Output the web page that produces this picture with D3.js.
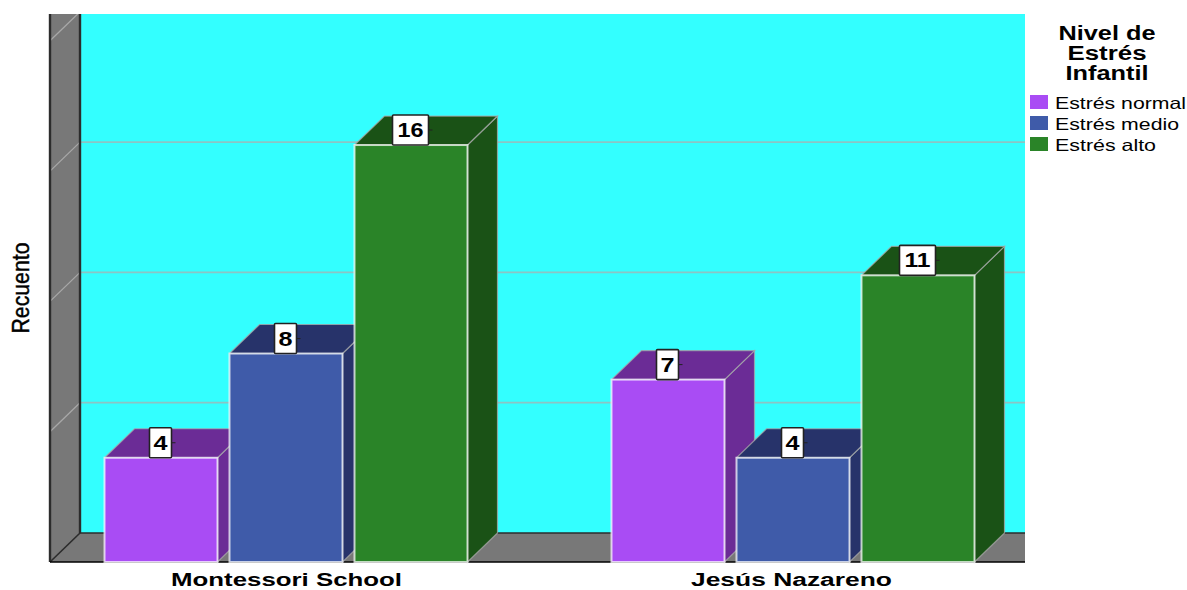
<!DOCTYPE html>
<html><head><meta charset="utf-8">
<script src="https://cdn.jsdelivr.net/npm/d3@7"></script>
<style>html,body{margin:0;padding:0;background:#fff}svg{display:block}text{font-family:"Liberation Sans",Arial,sans-serif;fill:#000}</style>
</head><body><svg id="c" width="1187" height="590"></svg>
<script>
const groups = ["Montessori School", "Jesús Nazareno"];
const seriesNames = ["Estrés normal", "Estrés medio", "Estrés alto"];
const montessoriValues = [4, 8, 16];
const nazarenoValues = [7, 4, 11];
const gridTicks = [5, 10, 15, 20];
const legendTitle = ["Nivel de", "Estrés", "Infantil"];
const yAxisTitle = "Recuento";
const frontColors = ["#A94CF4", "#3F5BA9", "#2A8428"];
const darkColors = ["#6B2C96", "#27336A", "#1A5216"];

const valuesByGroup = [montessoriValues, nazarenoValues];
const svg = d3.select("#c");
const L = 50, R = 1025, T = 14, B = 562, DX = 30, DY = 29;
const y = d3.scaleLinear().domain([0, 20]).range([B, B - 521.2]);
const x0 = d3.scalePoint().domain(groups).range([286.5, 793.5]);
const x1 = d3.scaleBand().domain(seriesNames).range([-181.5, 181.5]).paddingInner(12 / 125);
const color = d3.scaleOrdinal(seriesNames, frontColors);
const dark = d3.scaleOrdinal(seriesNames, darkColors);

svg.append("clipPath").attr("id", "plot").append("rect")
  .attr("x", L - 2).attr("y", T).attr("width", R - L + 2).attr("height", B - T + 2);
const g = svg.append("g").attr("clip-path", "url(#plot)");

// back wall, side wall, floor
g.append("rect").attr("x", L + DX).attr("y", T).attr("width", R - L - DX).attr("height", B - DY - T).attr("fill", "#33FFFF");
g.append("rect").attr("x", L).attr("y", T).attr("width", DX).attr("height", B - T).attr("fill", "#787878");
g.append("rect").attr("x", L).attr("y", B - DY).attr("width", R - L).attr("height", DY).attr("fill", "#787878");

// gridlines on the wall
g.selectAll("line.grid").data(gridTicks).join("line").attr("class", "grid")
  .attr("x1", L + DX).attr("x2", R).attr("y1", d => y(d) - DY).attr("y2", d => y(d) - DY)
  .attr("stroke", "#8CC4C4").attr("stroke-width", 1.8);
g.selectAll("line.diag").data(gridTicks).join("line").attr("class", "diag")
  .attr("x1", L).attr("x2", L + DX).attr("y1", d => y(d)).attr("y2", d => y(d) - DY)
  .attr("stroke", "#A8A8A8").attr("stroke-width", 1.3);

// frame lines
const frame = [
  [L, T, L, B], [L + DX, T, L + DX, B - DY], [L + DX, B - DY, R, B - DY],
  [L, B, L + DX, B - DY], [L, B, R, B]
];
g.selectAll("line.frame").data(frame).join("line").attr("class", "frame")
  .attr("x1", d => d[0]).attr("y1", d => d[1]).attr("x2", d => d[2]).attr("y2", d => d[3])
  .attr("stroke", (d, i) => i === 4 ? "#000" : "#2c2c2c").attr("stroke-width", (d, i) => i < 2 ? 2.4 : 1.6);

// 3D bars
const bars = groups.flatMap((grp, i) => seriesNames.map((s, j) => ({ grp, s, v: valuesByGroup[i][j] })));
const barG = g.selectAll("g.bar").data(bars).join("g").attr("class", "bar");
const bw = x1.bandwidth();
const left = d => x0(d.grp) + x1(d.s) - 0.5;
const pts = a => a.map(p => p.join(",")).join(" ");
barG.append("polygon")
  .attr("points", d => pts([[left(d) + bw, B], [left(d) + bw + DX, B - DY], [left(d) + bw + DX, y(d.v) - DY], [left(d) + bw, y(d.v)]]))
  .attr("fill", d => dark(d.s)).attr("stroke", "#A9A9A9").attr("stroke-opacity", .75).attr("stroke-width", 1.2);
barG.append("polygon")
  .attr("points", d => pts([[left(d), y(d.v)], [left(d) + DX, y(d.v) - DY], [left(d) + bw + DX, y(d.v) - DY], [left(d) + bw, y(d.v)]]))
  .attr("fill", d => dark(d.s)).attr("stroke", "#A9A9A9").attr("stroke-opacity", .75).attr("stroke-width", 1.2);
barG.append("rect")
  .attr("x", left).attr("y", d => y(d.v)).attr("width", bw).attr("height", d => B - y(d.v))
  .attr("fill", d => color(d.s)).attr("stroke", "#fff").attr("stroke-opacity", .72).attr("stroke-width", 2);

// value labels
const labG = svg.selectAll("g.lab").data(bars).join("g").attr("class", "lab")
  .attr("transform", d => `translate(${left(d) + bw / 2 - 0.5},${y(d.v) - 15})`);
labG.append("line").attr("x1", 0).attr("x2", d => (String(d.v).length > 1 ? 18 : 11) + 4)
  .attr("stroke", "#222").attr("stroke-width", 1);
labG.append("rect")
  .attr("x", d => String(d.v).length > 1 ? -18 : -11).attr("width", d => String(d.v).length > 1 ? 36 : 22)
  .attr("y", -15).attr("height", 30).attr("rx", 1)
  .attr("fill", "#fff").attr("stroke", "#222").attr("stroke-width", 1.6);
labG.append("text").attr("text-anchor", "middle").attr("y", 7)
  .attr("font-size", 21).attr("font-weight", 700)
  .attr("textLength", d => String(d.v).length > 1 ? 26 : 14).attr("lengthAdjust", "spacingAndGlyphs").text(d => d.v);

// category labels
svg.selectAll("text.cat").data(groups).join("text").attr("class", "cat")
  .attr("x", (d, i) => x0(d) - (i === 0 ? 0 : 2)).attr("y", 586).attr("text-anchor", "middle")
  .attr("font-size", 18).attr("font-weight", 700)
  .attr("textLength", (d, i) => i === 0 ? 231 : 201).attr("lengthAdjust", "spacingAndGlyphs").text(d => d);

// y title
svg.append("text").attr("transform", "translate(29,288) rotate(-90)").attr("text-anchor", "middle")
  .attr("font-size", 23).attr("stroke", "#000").attr("stroke-width", .45)
  .attr("textLength", 91).attr("lengthAdjust", "spacingAndGlyphs").text(yAxisTitle);

// legend
const titleWidths = [97, 79, 83];
svg.selectAll("text.lt").data(legendTitle).join("text").attr("class", "lt")
  .attr("x", 1107).attr("y", (d, i) => 40 + i * 20).attr("text-anchor", "middle")
  .attr("font-size", 19.5).attr("font-weight", 700)
  .attr("textLength", (d, i) => titleWidths[i]).attr("lengthAdjust", "spacingAndGlyphs").text(d => d);
const legendWidths = [131, 124, 101];
const leg = svg.selectAll("g.leg").data(seriesNames).join("g").attr("class", "leg")
  .attr("transform", (d, i) => `translate(1030,${95 + i * 21})`);
leg.append("rect").attr("width", 18).attr("height", 14).attr("fill", d => color(d));
leg.append("text").attr("x", 25).attr("y", 14).attr("font-size", 16.5).attr("fill", "#111")
  .attr("textLength", (d, i) => legendWidths[i]).attr("lengthAdjust", "spacingAndGlyphs").text(d => d);
</script></body></html>
